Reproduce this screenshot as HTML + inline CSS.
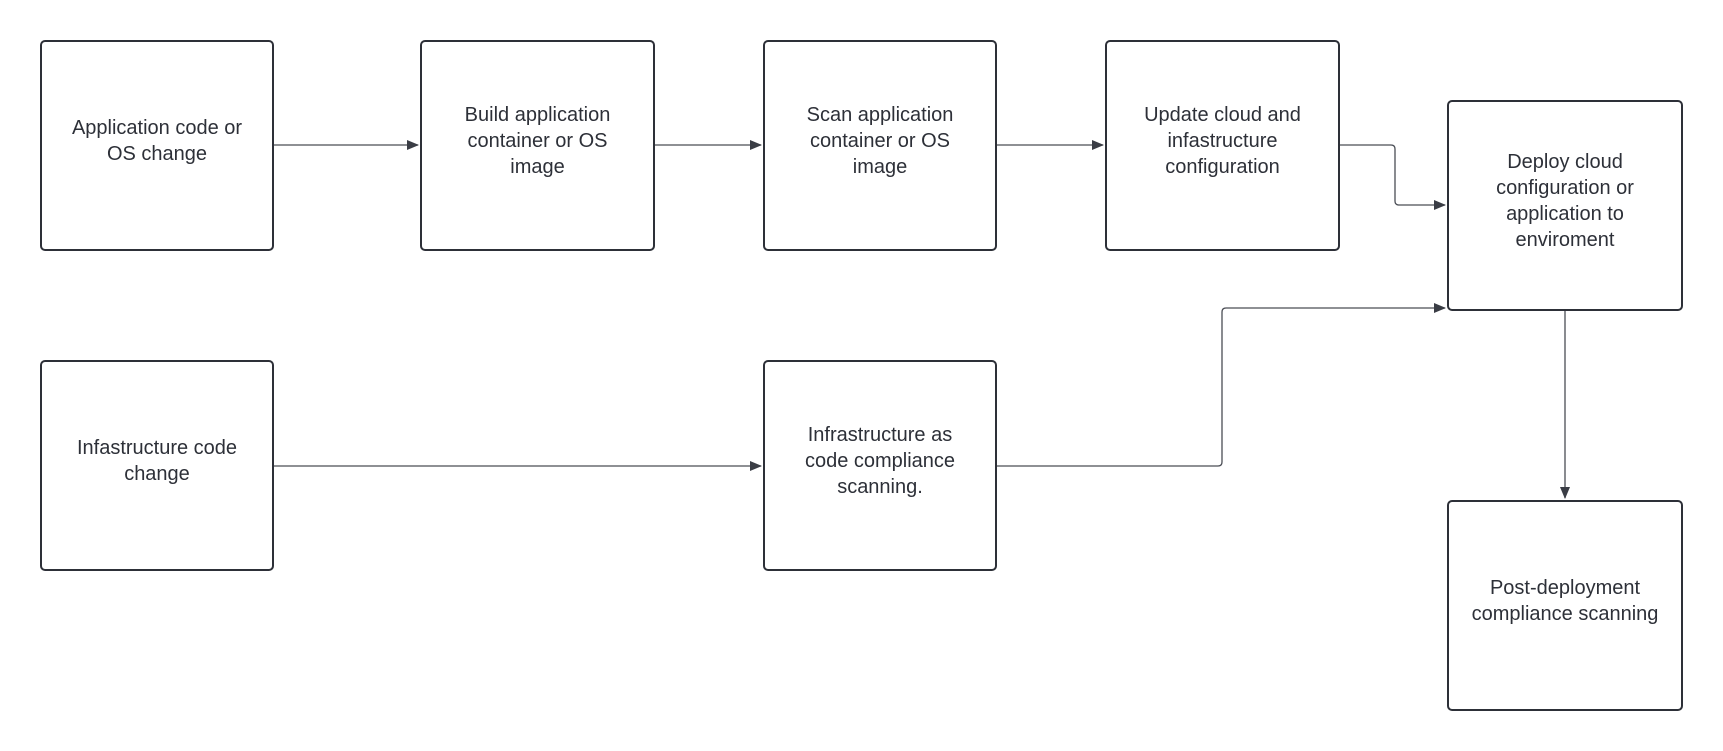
<!DOCTYPE html>
<html><head><style>
body{margin:0;width:1723px;height:751px;background:#fff;position:relative;overflow:hidden;font-family:"Liberation Sans",sans-serif;}
.b{position:absolute;box-sizing:border-box;border:2px solid #2d3038;border-radius:5px;display:flex;align-items:center;justify-content:center;text-align:center;color:#2d3038;font-size:20px;line-height:26px;padding:0 20px 10px;}
svg{position:absolute;left:0;top:0}
</style></head><body>
<svg width="1723" height="751">
<defs><marker id="a" markerWidth="12" markerHeight="10" refX="11" refY="5" orient="auto" markerUnits="userSpaceOnUse"><path d="M0,0L12,5L0,10Z" fill="#3a3d45"/></marker></defs>
<g stroke="#4a4d55" stroke-width="1.3" fill="none">
<path d="M274,145H418" marker-end="url(#a)"/>
<path d="M655,145H761" marker-end="url(#a)"/>
<path d="M997,145H1103" marker-end="url(#a)"/>
<path d="M1340,145H1391q4,0 4,4V201q0,4 4,4H1445" marker-end="url(#a)"/>
<path d="M274,466H761" marker-end="url(#a)"/>
<path d="M997,466H1218q4,0 4,-4V312q0,-4 4,-4H1445" marker-end="url(#a)"/>
<path d="M1565,310V498" marker-end="url(#a)"/>
</g></svg>
<div class="b" style="left:40px;top:40px;width:234px;height:211px">Application code or OS change</div>
<div class="b" style="left:420px;top:40px;width:235px;height:211px">Build application container or OS image</div>
<div class="b" style="left:763px;top:40px;width:234px;height:211px">Scan application container or OS image</div>
<div class="b" style="left:1105px;top:40px;width:235px;height:211px">Update cloud and infastructure configuration</div>
<div class="b" style="left:1447px;top:100px;width:236px;height:211px">Deploy cloud configuration or application to enviroment</div>
<div class="b" style="left:1447px;top:500px;width:236px;height:211px">Post-deployment compliance scanning</div>
<div class="b" style="left:40px;top:360px;width:234px;height:211px">Infastructure code change</div>
<div class="b" style="left:763px;top:360px;width:234px;height:211px">Infrastructure as code compliance scanning.</div>
</body></html>
